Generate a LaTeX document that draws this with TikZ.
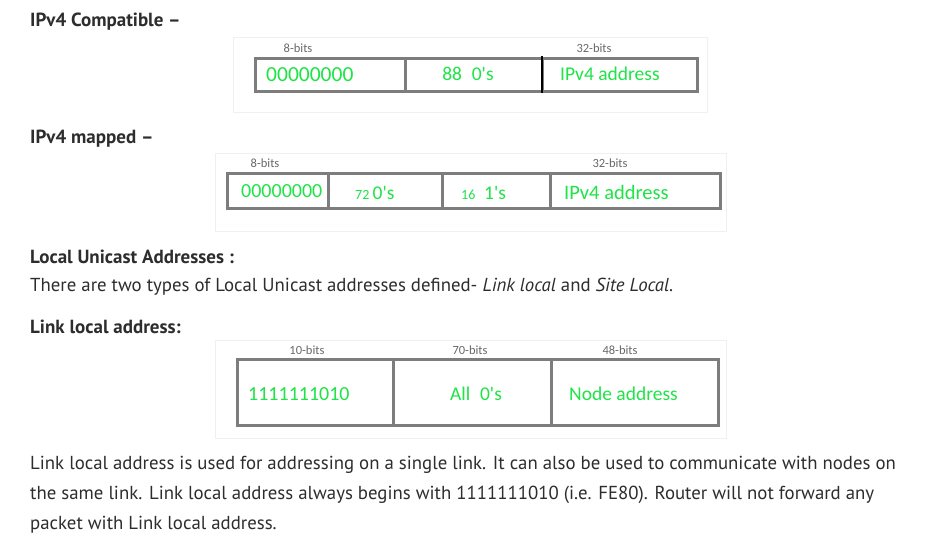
\documentclass[tikz,border=0pt]{standalone}
\usepackage{fontspec}
\setmainfont{PT Sans}
\newfontfamily\calibri{Carlito}
\usetikzlibrary{positioning}

\definecolor{fieldgreen}{RGB}{30,228,70}
\definecolor{boxgray}{RGB}{125,125,125}
\definecolor{bodytext}{RGB}{45,45,45}
\definecolor{bitgray}{RGB}{105,105,105}
\definecolor{cardline}{RGB}{240,240,240}

\begin{document}
\begin{tikzpicture}
[x=1pt,y=-1pt,
heading/.style  = {anchor=west, inner sep=0pt, text=bodytext, font=\fontsize{19}{22}\selectfont\bfseries},
bodyline/.style = {anchor=west, inner sep=0pt, text=bodytext, font=\fontsize{18.8}{22}\selectfont},
card/.style     = {draw=cardline, fill=white},
field/.style    = {draw=boxgray, line width=3pt, outer sep=0pt, inner sep=0pt},
bits/.style     = {inner sep=0pt, text=bitgray, font=\calibri\fontsize{12.5}{14}\selectfont},
value/.style    = {inner sep=0pt, text=fieldgreen, font=\calibri\fontsize{19.5}{22}\selectfont}
]
\useasboundingbox[fill=white] (0,0) rectangle (929,552);

% IPv4 compatible
\node [heading] (compat_head) at (30,22) {IPv4 Compatible –};
\draw [card] (233,37) rectangle (707,112);
\node [field, anchor=north west, minimum width=150pt, minimum height=33pt] (zero8_a) at (255,58) {};
\node [field, anchor=west, minimum width=137pt, minimum height=33pt] (zero88) at (zero8_a.east) {};
\node [field, anchor=west, minimum width=155pt, minimum height=33pt] (ipv4_a) at (zero88.east) {};
\draw [black, line width=1.2pt] ([yshift=2pt]zero88.north east) -- ([yshift=-2pt]zero88.south east);
\node [bits] (bits8_a) at (298,48) {8-bits};
\node [bits] (bits32_a) at (594,48) {32-bits};
\node [value, anchor=west, font=\calibri\fontsize{21.5}{24}\selectfont] at (266,75) {00000000};
\node [value] at (468,74) {88\hspace{0.5em}0's};
\node [value, anchor=west] at (560,74) {IPv4 address};

% IPv4 mapped
\node [heading] (mapped_head) at (30,139) {IPv4 mapped –};
\draw [card] (215,153) rectangle (726,231);
\node [field, anchor=north west, minimum width=101pt, minimum height=35pt] (zero8_b) at (227,173) {};
\node [field, anchor=west, minimum width=114pt, minimum height=35pt] (zero72) at (zero8_b.east) {};
\node [field, anchor=west, minimum width=108pt, minimum height=35pt] (ones16) at (zero72.east) {};
\node [field, anchor=west, minimum width=170pt, minimum height=35pt] (ipv4_b) at (ones16.east) {};
\node [bits] (bits8_b) at (265,163) {8-bits};
\node [bits] (bits32_b) at (610,163) {32-bits};
\node [value, anchor=west, font=\calibri\fontsize{20}{22}\selectfont] at (241,191) {00000000};
\node [value, anchor=west] at (355,193) {{\fontsize{14}{16}\selectfont 72}\,0's};
\node [value, anchor=west] at (461,193) {{\fontsize{14}{16}\selectfont 16}\hspace{0.45em}1's};
\node [value, anchor=west, font=\calibri\fontsize{20.5}{23}\selectfont] at (564,192) {IPv4 address};

% local unicast
\node [heading] (unicast_head) at (30,257) {Local Unicast Addresses :};
\node [bodyline] (unicast_text) at (30,287) {There are two types of Local Unicast addresses defined- \textit{Link local} and \textit{Site Local}.};
\node [heading] (link_head) at (30,327) {Link local address:};

% link local
\draw [card] (215,340) rectangle (726,438);
\node [field, anchor=north west, minimum width=156pt, minimum height=66pt] (prefix10) at (237,359) {};
\node [field, anchor=west, minimum width=158pt, minimum height=66pt] (zero70) at (prefix10.east) {};
\node [field, anchor=west, minimum width=167pt, minimum height=66pt] (node48) at (zero70.east) {};
\node [bits] (bits10) at (307,350) {10-bits};
\node [bits] (bits70) at (470,350) {70-bits};
\node [bits] (bits48) at (620,350) {48-bits};
\node [value, anchor=west, font=\calibri\fontsize{20}{22}\selectfont] at (248,394) {1111111010};
\node [value] at (476,394) {All\hspace{0.5em}0's};
\node [value, anchor=west] at (569,394) {Node address};

% paragraph
\node [bodyline] (para1) at (30,465) {Link local address is used for addressing on a single link. It can also be used to communicate with nodes on};
\node [bodyline] (para2) at (30,495) {the same link. Link local address always begins with 1111111010 (i.e. FE80). Router will not forward any};
\node [bodyline] (para3) at (30,525) {packet with Link local address.};

\end{tikzpicture}
\end{document}
